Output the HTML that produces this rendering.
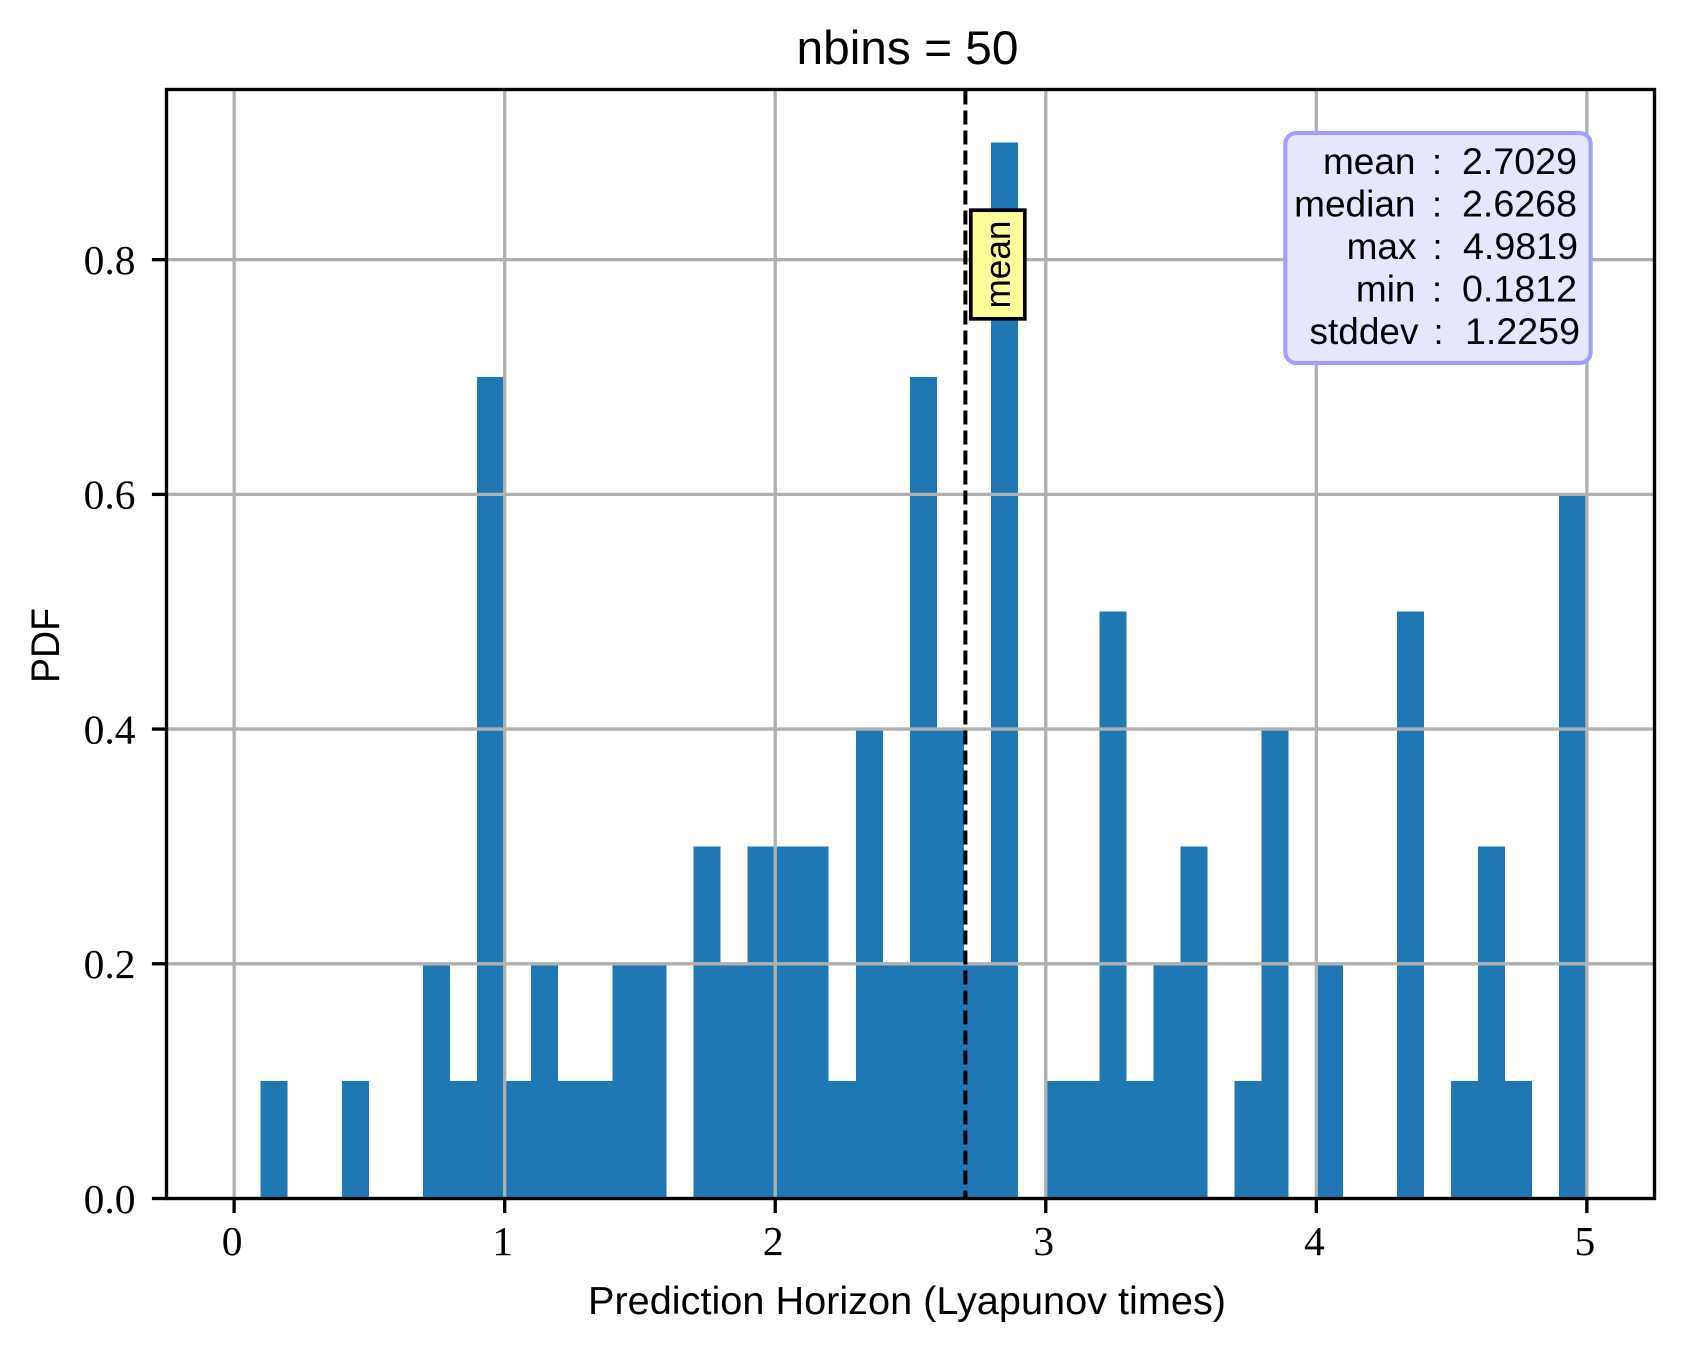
<!DOCTYPE html>
<html lang="en">
<head>
<meta charset="utf-8">
<title>nbins = 50</title>
<style>
html,body{margin:0;padding:0;background:#fff;}
svg{display:block;}
.sans{font-family:"Liberation Sans",sans-serif;fill:#000;}
.serif{font-family:"Liberation Serif",serif;fill:#000;}
</style>
</head>
<body>
<svg id="chart" xmlns="http://www.w3.org/2000/svg" width="1683" height="1352" viewBox="0 0 1683 1352">
  <rect x="0" y="0" width="1683" height="1352" fill="#fff"/>
  <text class="sans" x="907.5" y="64" text-anchor="middle" font-size="47" textLength="222" lengthAdjust="spacingAndGlyphs">nbins = 50</text>
  <text class="sans" x="907" y="1314" text-anchor="middle" font-size="39" textLength="638" lengthAdjust="spacingAndGlyphs">Prediction Horizon (Lyapunov times)</text>
  <text class="sans" transform="translate(59,645.5) rotate(-90)" text-anchor="middle" font-size="40" textLength="75" lengthAdjust="spacingAndGlyphs">PDF</text>
</svg>
<script>
const binLefts = [0.0,0.1,0.2,0.3,0.4,0.5,0.6,0.7,0.8,0.9,1.0,1.1,1.2,1.3,1.4,1.5,1.6,1.7,1.8,1.9,2.0,2.1,2.2,2.3,2.4,2.5,2.6,2.7,2.8,2.9,3.0,3.1,3.2,3.3,3.4,3.5,3.6,3.7,3.8,3.9,4.0,4.1,4.2,4.3,4.4,4.5,4.6,4.7,4.8,4.9];
const densities = [0,0.1,0,0,0.1,0,0,0.2,0.1,0.7,0.1,0.2,0.1,0.1,0.2,0.2,0,0.3,0.2,0.3,0.3,0.3,0.1,0.4,0.2,0.7,0.4,0.2,0.9,0,0.1,0.1,0.5,0.1,0.2,0.3,0,0.1,0.4,0,0.2,0,0,0.5,0,0.1,0.3,0.1,0,0.6];
const binWidth = 0.1;
const xTicks = [0,1,2,3,4,5];
const yTicks = [0.0,0.2,0.4,0.6,0.8];
const yTickLabels = ["0.0","0.2","0.4","0.6","0.8"];
const meanValue = 2.7029;
const statNames = ["mean","median","max","min","stddev"];
const statValues = ["2.7029","2.6268","4.9819","0.1812","1.2259"];

const xDomain = [-0.25, 5.25];
const yDomain = [0, 0.945];
const plot = {left:166.5, right:1654.5, top:89.5, bottom:1198.5};
const lw = 3.33;
const svg = document.getElementById('chart');
const NS = 'http://www.w3.org/2000/svg';

function xScale(v){ return plot.left + (v - xDomain[0]) / (xDomain[1] - xDomain[0]) * (plot.right - plot.left); }
function yScale(v){ return plot.bottom - (v - yDomain[0]) / (yDomain[1] - yDomain[0]) * (plot.bottom - plot.top); }
function make(tag, attrs, text){
  const el = document.createElementNS(NS, tag);
  for (const k in attrs) el.setAttribute(k, attrs[k]);
  if (text !== undefined) el.textContent = text;
  svg.appendChild(el);
  return el;
}

/* bars */
binLefts.forEach(function(b, i){
  const h = plot.bottom - yScale(densities[i]);
  const el = make('rect', {x:xScale(b) - 0.6, y:yScale(densities[i]), width:xScale(b + binWidth) - xScale(b), height:h, fill:'#1f77b4', 'shape-rendering':'crispEdges'});
  
  
});

/* grid */
xTicks.forEach(function(t){
  const el = make('line', {x1:xScale(t), x2:xScale(t), y1:plot.top, y2:plot.bottom, stroke:'#b0b0b0', 'stroke-width':lw});
  
  
});
yTicks.forEach(function(t){
  const el = make('line', {x1:plot.left, x2:plot.right, y1:yScale(t), y2:yScale(t), stroke:'#b0b0b0', 'stroke-width':lw});
  
  
});

/* mean line */
const meanLine = make('line', {x1:xScale(meanValue), x2:xScale(meanValue), y1:plot.top, y2:plot.bottom, stroke:'#000', 'stroke-width':4, 'stroke-dasharray':'14 6', 'stroke-dashoffset':'-1'});



/* ticks and tick labels */
xTicks.forEach(function(t){
  const tick = make('line', {x1:xScale(t), x2:xScale(t), y1:plot.bottom, y2:plot.bottom + 14.6, stroke:'#000', 'stroke-width':lw});
  
  
  const label = make('text', {class:'serif', x:xScale(t) - 2, y:1255, 'text-anchor':'middle', 'font-size':41.5}, String(t));
  
  
});
yTicks.forEach(function(t, i){
  const tick = make('line', {x1:plot.left - 14.6, x2:plot.left, y1:yScale(t), y2:yScale(t), stroke:'#000', 'stroke-width':lw});
  
  
  const label = make('text', {class:'serif', x:135.5, y:yScale(t) + 14.3, 'text-anchor':'end', 'font-size':41.5}, yTickLabels[i]);
  
  
});

/* spines */
const frame = make('rect', {x:plot.left, y:plot.top, width:plot.right - plot.left, height:plot.bottom - plot.top, fill:'none', stroke:'#000', 'stroke-width':lw});



/* mean annotation */
const meanBox = make('rect', {x:970.8, y:210.2, width:54, height:108.6, fill:'#ffff99', stroke:'#000', 'stroke-width':3.7});


const meanText = make('text', {class:'sans', transform:'translate(1010,264.5) rotate(-90)', 'text-anchor':'middle', 'font-size':36, textLength:88, lengthAdjust:'spacingAndGlyphs'}, 'mean');



/* statistics box */
const statBox = make('rect', {x:1285.3, y:133, width:305.4, height:230, rx:11, ry:11, fill:'#e6e6ff', stroke:'#9f9fff', 'stroke-width':4});


statNames.forEach(function(n, i){
  const baseline = 174 + i * 42.5;
  const shift = n === 'stddev' ? 3 : (n === 'max' ? 1 : 0);
  const name = make('text', {class:'sans', x:1415.5 + shift, y:baseline, 'text-anchor':'end', 'font-size':37}, n);
  
  
  const colon = make('text', {class:'sans', x:1437 + shift / 2, y:baseline, 'text-anchor':'middle', 'font-size':36}, ':');
  
  
  const value = make('text', {class:'sans', x:1577 + shift, y:baseline, 'text-anchor':'end', 'font-size':37, textLength:115, lengthAdjust:'spacingAndGlyphs'}, statValues[i]);
  
  
});
</script>
</body>
</html>
